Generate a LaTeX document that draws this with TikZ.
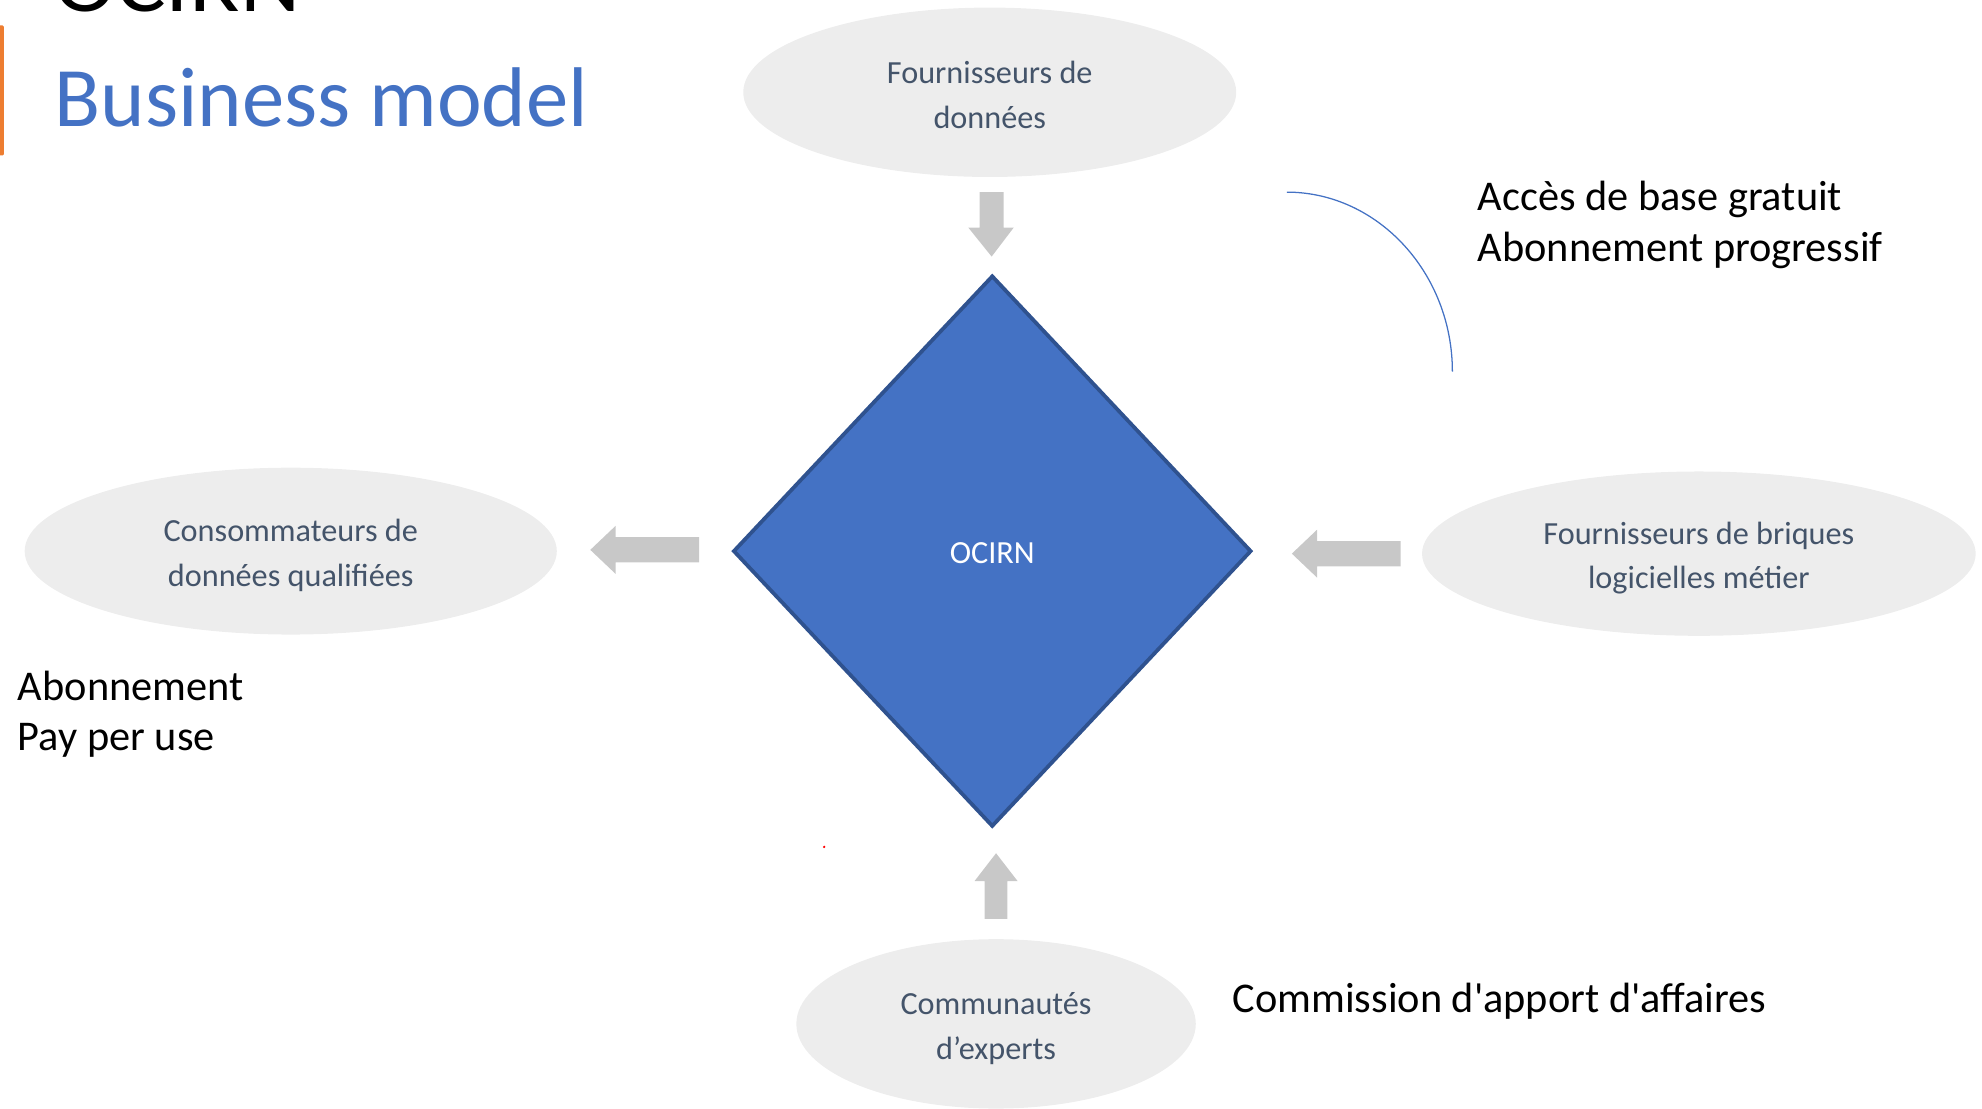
\documentclass[tikz,border=0pt]{standalone}
\usepackage{fontspec}
\setmainfont{Carlito}[Ligatures=TeXOff]
\usetikzlibrary{shapes.geometric}
\definecolor{bluefill}{RGB}{68,114,196}
\definecolor{blueedge}{RGB}{47,82,143}
\definecolor{ellfill}{RGB}{237,237,237}
\definecolor{elltext}{RGB}{68,84,106}
\definecolor{arrowgray}{RGB}{200,200,200}
\definecolor{orangebar}{RGB}{237,125,49}
\begin{document}
\begin{tikzpicture}[x=1pt,y=-1pt,
  ell/.style={ellipse, fill=ellfill, inner sep=0pt, text=elltext, align=center,
    font=\fontsize{25.5}{35.5}\selectfont},
  blockarrow/.style={fill=arrowgray},
  note/.style={anchor=west, align=left, inner sep=0pt, text=black,
    font=\fontsize{33.5}{40}\selectfont},
  titlefont/.style={inner sep=0pt, anchor=base west, font=\fontsize{67}{80}\selectfont}]
\useasboundingbox (0,0) rectangle (1568,877.3);
\clip (0,0) rectangle (1568,877.3);

% title area
\node[titlefont, text=black, xscale=1.1] (ocirntop) at (43,9) {OCIRN};
\node[titlefont, text=bluefill] (title) at (43,100) {Business model};
\fill[orangebar, rounded corners=1pt] (-3,20) rectangle (3,123);

% ellipses
\node[ell, minimum width=390pt, minimum height=134pt] (top) at (783,73) {};
\node[ell, minimum width=421pt, minimum height=132pt] (left) at (230,436) {};
\node[ell, minimum width=438pt, minimum height=130pt] (right) at (1344,438) {};
\node[ell, minimum width=316pt, minimum height=134pt] (bottom) at (788,810) {};
\node[ell, fill=none] (toptext) at ([yshift=-2pt]top.center) {Fournisseurs de\\données};
\node[ell, fill=none] (lefttext) at ([yshift=-3.5pt]left.center) {Consommateurs de\\données qualifiées};
\node[ell, fill=none] (righttext) at ([yshift=-3.5pt]right.center) {Fournisseurs de briques\\logicielles métier};
\node[ell, fill=none] (bottomtext) at ([yshift=-3.5pt]bottom.center) {Communautés\\d’experts};

% diamond
\node[diamond, minimum width=410pt, minimum height=436pt, inner sep=0pt,
  fill=bluefill, draw=blueedge, line width=3pt] (ocirn) at (785,436) {};
\node[text=white, font=\fontsize{25.5}{30}\selectfont, inner sep=0pt] (ocirnlabel) at ([yshift=-1.5pt]ocirn.center) {OCIRN};

% block arrows
\fill[blockarrow] (775,152) -- (794,152) -- (794,180) -- (802,180) -- (784.5,203) -- (766,180) -- (775,180) -- cycle;
\fill[blockarrow] (553,425) -- (487,425) -- (487,416) -- (467,435) -- (487,454) -- (487,445) -- (553,445) -- cycle;
\fill[blockarrow] (1108,428) -- (1042,428) -- (1042,419) -- (1022,438) -- (1042,457) -- (1042,448) -- (1108,448) -- cycle;
\fill[blockarrow] (779,727) -- (779,697) -- (771,697) -- (788,675) -- (805,697) -- (797,697) -- (797,727) -- cycle;

% arc
\coordinate (arcA) at (1018,152);
\coordinate (arcB) at (1149,294);
\draw[bluefill, line width=1pt] (arcA) .. controls (1090,152) and (1149,216) .. (arcB);

% notes
\node[note] (n1) at (1169,178) {Accès de base gratuit\\Abonnement progressif};
\node[note] (n2) at (14,565) {Abonnement\\Pay per use};
\node[note] (n3) at (975,792) {Commission d'apport d'affaires};

% small red mark
\fill[red] (652,670) circle (1pt);
\end{tikzpicture}
\end{document}
